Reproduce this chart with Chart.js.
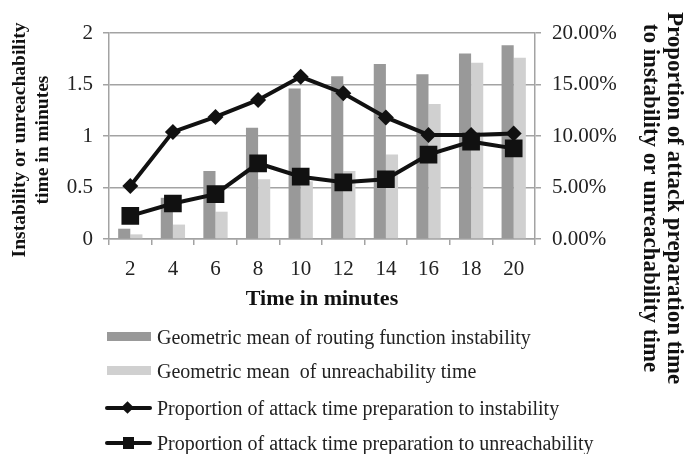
<!DOCTYPE html>
<html>
<head>
<meta charset="utf-8">
<script src="https://cdn.jsdelivr.net/npm/chart.js@4"></script>
<style>
  html, body { margin: 0; padding: 0; background: #fff; }
  #wrap { position: relative; width: 686px; height: 454px; }
  #chart { position: absolute; left: 0; top: 0; }
  .legend { position: absolute; left: 0; top: 0; font-family: "Liberation Serif", serif; font-size: 20px; color: #222; }
  .item { position: absolute; left: 104px; height: 24px; white-space: nowrap; }
  .item span.txt { position: absolute; left: 53px; top: 0; line-height: 24px; white-space: pre; }
  .swatch { position: absolute; left: 3px; top: 7px; width: 44px; height: 9px; }
  .ln { position: absolute; left: 1px; top: 10px; width: 47px; height: 4px; background: #111; border-radius: 2px; }
  .dia { position: absolute; left: 19px; top: 7px; width: 9px; height: 9px; background: #111; transform: rotate(45deg); }
  .sq { position: absolute; left: 19px; top: 6px; width: 11px; height: 12px; background: #111; }
</style>
</head>
<body>
<div id="wrap">
  <canvas id="chart" width="686" height="454"></canvas>
  <div class="legend" id="legend"></div>
</div>
<script>
// time steps (minutes)
const minutes = ['2', '4', '6', '8', '10', '12', '14', '16', '18', '20'];

// geometric means, in minutes (left axis)
const instabilityMean = [0.10, 0.40, 0.66, 1.08, 1.46, 1.58, 1.70, 1.60, 1.80, 1.88];
const unreachMean = [0.045, 0.14, 0.265, 0.58, 0.56, 0.66, 0.82, 1.31, 1.71, 1.76];

// proportion of attack preparation time, in percent (right axis)
const propInstability = [5.15, 10.4, 11.85, 13.5, 15.75, 14.15, 11.8, 10.1, 10.1, 10.25];
const propUnreach = [2.25, 3.45, 4.35, 7.35, 6.05, 5.5, 5.8, 8.2, 9.45, 8.8];

const seriesNames = [
  'Geometric mean of routing function instability',
  'Geometric mean  of unreachability time',
  'Proportion of attack time preparation to instability',
  'Proportion of attack time preparation to unreachability'
];

const leftTitle = ['Instability or unreachability', 'time in minutes'];
const rightTitle = ['Proportion of attack preparation time', 'to instability or unreachability time'];
const bottomTitle = 'Time in minutes';

const SERIF = '"Liberation Serif", "Times New Roman", serif';
const GRID = '#a3a3a3';

// axis titles are placed by hand so they line up with the legend block
const axisTitles = {
  id: 'axisTitles',
  afterDraw(chart) {
    const ctx = chart.ctx;
    const area = chart.chartArea;
    ctx.save();
    ctx.fillStyle = '#111';
    ctx.textAlign = 'center';
    ctx.textBaseline = 'middle';

    ctx.font = 'bold 22px ' + SERIF;
    ctx.fillText(bottomTitle, (area.left + area.right) / 2, 299);

    ctx.save();
    ctx.font = 'bold 19.5px ' + SERIF;
    ctx.translate(0, 140);
    ctx.rotate(-Math.PI / 2);
    ctx.fillText(leftTitle[0], 0, 20);
    ctx.fillText(leftTitle[1], 0, 43);
    ctx.restore();

    ctx.save();
    ctx.font = 'bold 23px ' + SERIF;
    ctx.translate(0, 198);
    ctx.rotate(Math.PI / 2);
    ctx.fillText(rightTitle[0], 0, -674);
    ctx.fillText(rightTitle[1], 0, -650);
    ctx.restore();

    ctx.restore();
  }
};

const tickFont = { family: SERIF, size: 21 };

const ctx = document.getElementById('chart').getContext('2d');
new Chart(ctx, {
  type: 'bar',
  data: {
    labels: minutes,
    datasets: [
      { label: seriesNames[0], data: instabilityMean, backgroundColor: '#999999', yAxisID: 'y', order: 2,
        categoryPercentage: 0.57, barPercentage: 1 },
      { label: seriesNames[1], data: unreachMean, backgroundColor: '#d0d0d0', yAxisID: 'y', order: 2,
        categoryPercentage: 0.57, barPercentage: 1 },
      { type: 'line', label: seriesNames[2], data: propInstability, yAxisID: 'y1', order: 1,
        borderColor: '#111', backgroundColor: '#111', borderWidth: 4, tension: 0,
        pointStyle: 'rectRot', pointRadius: 8, pointBorderWidth: 0 },
      { type: 'line', label: seriesNames[3], data: propUnreach, yAxisID: 'y1', order: 0,
        borderColor: '#111', backgroundColor: '#111', borderWidth: 4, tension: 0,
        pointStyle: 'rect', pointRadius: 12.5, pointBorderWidth: 0 }
    ]
  },
  options: {
    responsive: false,
    animation: false,
    layout: { padding: { top: 33, left: 0, right: 0, bottom: 0 } },
    plugins: { legend: { display: false }, tooltip: { enabled: false } },
    scales: {
      x: {
        afterFit: s => { s.height = 215; },
        grid: { display: true, drawOnChartArea: false, offset: true, tickLength: 6, color: GRID, lineWidth: 1.5 },
        border: { color: GRID, width: 1.5 },
        ticks: { color: '#222', font: tickFont, padding: 12 }
      },
      y: {
        position: 'left',
        min: 0, max: 2,
        afterFit: s => { s.width = 109; },
        grid: { color: GRID, lineWidth: 1.5, tickLength: 6 },
        border: { color: GRID, width: 1.5 },
        ticks: { stepSize: 0.5, color: '#222', font: tickFont, padding: 10,
          callback: v => String(v) }
      },
      y1: {
        position: 'right',
        min: 0, max: 20,
        afterFit: s => { s.width = 151; },
        grid: { drawOnChartArea: false, color: GRID, lineWidth: 1.5, tickLength: 6 },
        border: { color: GRID, width: 1.5 },
        ticks: { stepSize: 5, color: '#222', font: tickFont, padding: 11,
          callback: v => v.toFixed(2) + '%' }
      }
    }
  },
  plugins: [axisTitles]
});

// legend block under the chart
const legendRows = [
  { top: 325, mark: '<div class="swatch" style="background:#999999"></div>' },
  { top: 359, mark: '<div class="swatch" style="background:#d0d0d0"></div>' },
  { top: 396, mark: '<div class="ln"></div><div class="dia"></div>' },
  { top: 431, mark: '<div class="ln"></div><div class="sq"></div>' }
];
const legend = document.getElementById('legend');
legendRows.forEach((row, i) => {
  const item = document.createElement('div');
  item.className = 'item';
  item.style.top = row.top + 'px';
  item.innerHTML = row.mark + '<span class="txt"></span>';
  item.querySelector('.txt').textContent = seriesNames[i];
  legend.appendChild(item);
});
</script>
</body>
</html>
